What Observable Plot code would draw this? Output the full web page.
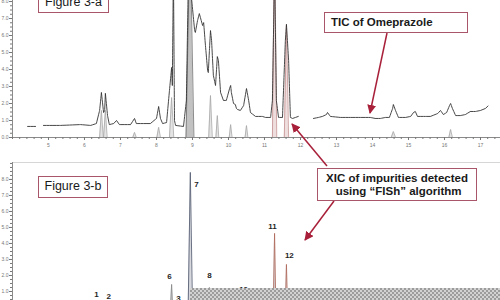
<!DOCTYPE html>
<html><head><meta charset="utf-8">
<script src="https://cdn.jsdelivr.net/npm/d3@7"></script>
<script src="https://cdn.jsdelivr.net/npm/@observablehq/plot@0.6"></script>
<style>
body{margin:0;background:#fff;font-family:Arial,"Liberation Sans",sans-serif}
#root{position:relative;width:500px;height:300px;overflow:hidden;background:#fff}
#root svg.chart{position:absolute;left:0;color:#777}
.box{position:absolute;border:1.6px solid #a9566a;background:#fff;color:#1a1a1a;box-sizing:border-box;white-space:nowrap}
#checker{position:absolute;left:190px;top:288px;width:310px;height:12px;background:repeating-conic-gradient(#9c9c9c 0 25%,#d2d2d2 0 50%) 0 0/4px 4px}
</style></head>
<body><div id="root"></div>
<script>
// ---- Data ----
const majorTicks = [5,6,7,8,9,10,11,12,13,14,15,16,17];
const intensityTicks = [0,1,2,3,4,5,6,7,8];

// TIC of Omeprazole (top panel), null = gap in trace
const ticTime = [4.42,4.64,4.75,4.86,5.33,5.89,6.17,6.33,6.42,6.47,6.53,6.56,6.58,6.64,6.69,6.81,6.89,6.97,7.28,7.39,7.44,7.83,8.0,8.06,8.11,8.17,8.28,8.36,8.42,8.44,8.47,8.5,8.53,8.75,8.83,8.89,9.06,9.08,9.14,9.19,9.22,9.28,9.31,9.36,9.42,9.44,9.47,9.5,9.53,9.58,9.64,9.69,9.72,9.78,9.86,9.94,10.03,10.06,10.08,10.14,10.19,10.22,10.25,10.33,10.42,10.5,10.56,10.61,10.75,10.94,11.03,11.17,11.22,11.28,11.33,11.39,11.5,11.58,11.61,11.67,11.72,11.78,11.86,11.94,12.1,12.36,12.5,12.61,12.72,12.75,12.83,13.11,13.39,13.67,13.94,14.08,14.22,14.36,14.47,14.56,14.58,14.64,14.72,14.92,15.06,15.14,15.19,15.25,15.47,15.61,15.81,15.89,15.97,16.06,16.14,16.17,16.22,16.31,16.44,16.58,16.72,16.86,17.0,17.14,17.22];
const ticIntensity = [0.65,0.65,null,0.71,0.71,0.76,0.71,0.82,1.59,2.65,1.47,1.59,2.6,1.29,0.76,0.82,1.0,0.76,0.76,1.12,0.82,0.82,1.12,1.82,1.12,0.82,0.88,2.76,4.12,3.06,10,1.0,0.71,0.65,2.18,10,6.29,6.18,6.88,7.29,7.06,6.59,6.76,5.41,3.94,3.82,5.12,6.29,5.71,3.65,3.06,4.76,4.53,2.65,2.18,2.18,2.88,3.06,2.65,2.0,1.94,1.71,1.65,1.59,1.88,2.88,2.18,1.47,1.24,1.24,1.18,1.18,2.18,10,2.18,1.18,1.18,5.71,6.65,4.53,1.18,1.12,1.18,1.24,null,1.12,1.18,1.24,1.35,1.47,1.24,1.18,1.18,1.18,1.18,1.12,1.12,1.18,1.18,1.71,1.94,1.59,1.18,1.18,1.24,1.47,1.53,1.24,1.24,1.24,1.41,1.59,1.35,1.47,1.88,2.0,1.71,1.29,1.29,1.35,1.53,1.53,1.59,1.71,1.88];

// Extracted ion peaks under the TIC (top panel)
const xicTopTime = [6.47,6.58,7.39,8.06,8.42,8.93,9.5,9.69,10.06,10.5,11.28,11.61,14.58,16.17];
const xicTopHeight = [1.59,1.59,0.3,0.6,2.35,12,2.47,1.29,0.76,0.7,12,6.65,0.35,0.47];
const xicTopHalfWidth = [0.05,0.05,0.05,0.05,0.06,0.11,0.05,0.04,0.04,0.04,0.06,0.06,0.06,0.05];
const xicTopGroup = ["minor","minor","minor","minor","minor","main","minor","minor","minor","minor","late","late","minor","minor"];

// XIC of impurities (bottom panel)
const xicBotTime = [6.47,6.58,8.42,8.61,8.94,9.47,10.47,11.28,11.61];
const xicBotHeight = [0.3,0.25,1.44,0.3,8.44,1.25,0.4,4.63,2.69];
const xicBotHalfWidth = [0.03,0.03,0.03,0.03,0.06,0.03,0.03,0.035,0.03];
const xicBotGroup = ["minor","minor","minor","minor","main","minor","minor","late","late"];

// Impurity numbers
const peakLabel = ["1","2","3","6","7","8","10","11","12"];
const peakLabelTime = [6.33,6.67,8.61,8.36,9.11,9.47,10.42,11.22,11.69];
const peakLabelLevel = [0.81,0.69,0.56,1.94,7.69,2.0,1.15,5.06,3.25];

// ---- Build ----
const tic = ticTime.map((t,i)=>({t, v: ticIntensity[i]}));
function peakShapes(times, heights, halfs, groups){
  const out = [];
  times.forEach((t,i)=>{
    out.push({id:i, g:groups[i], t:t-halfs[i], v:0});
    out.push({id:i, g:groups[i], t:t, v:heights[i]});
    out.push({id:i, g:groups[i], t:t+halfs[i], v:0});
  });
  return out;
}
const topPeaks = peakShapes(xicTopTime, xicTopHeight, xicTopHalfWidth, xicTopGroup);
const botPeaks = peakShapes(xicBotTime, xicBotHeight, xicBotHalfWidth, xicBotGroup);
const labels = peakLabel.map((s,i)=>({s, t:peakLabelTime[i], v:peakLabelLevel[i]}));

const xDomain = [4, 17.556];
const minor = d3.range(4, 17.6, 0.2).map(d=>+d.toFixed(2));
const groupDomain = ["minor","main","late"];
const topOutline = {minor:"#a6a6a6", main:"#6e6e6e", late:"#c49090"};
const font = {fontFamily:"Arial, Liberation Sans, sans-serif", background:"transparent"};

const topChart = Plot.plot({
  width:500, height:150, marginLeft:12, marginRight:0, marginTop:0, marginBottom:13,
  x:{domain:xDomain, axis:null}, y:{domain:[0,8.06], axis:null},
  color:{domain:groupDomain, range:["#e4e4e4","#c2c2c2","#efdede"]},
  style:font,
  marks:[
    Plot.areaY(topPeaks,{x:"t", y:"v", z:"id", fill:"g", clip:true}),
    Plot.line(topPeaks,{x:"t", y:"v", z:"id", stroke:d=>topOutline[d.g], strokeWidth:0.8, clip:true}),
    Plot.line(tic,{x:"t", y:"v", stroke:"#333", strokeWidth:0.9, strokeDasharray:"2.5,0.8", clip:true}),
    Plot.ruleY([0],{stroke:"#8a8a8a", strokeWidth:1.2}),
    Plot.ruleX([4],{stroke:"#8a8a8a"}),
    Plot.axisX({ticks:minor, tickSize:2, tickFormat:()=>"", label:null}),
    Plot.axisX({ticks:majorTicks, tickSize:3, tickPadding:3, fontSize:5, tickFormat:d=>String(d), label:null}),
    Plot.axisY({ticks:d3.range(0,8.1,0.25), tickSize:2, tickFormat:()=>"", label:null}),
    Plot.axisY({ticks:intensityTicks, tickSize:3, tickPadding:1, fontSize:5, tickFormat:d=>d.toFixed(1), label:null})
  ]
});
topChart.classList.add("chart");
topChart.style.top = "0px";

const botChart = Plot.plot({
  width:500, height:157, marginLeft:12, marginRight:0, marginTop:12, marginBottom:0,
  x:{domain:xDomain, axis:null}, y:{domain:[0,9.06], axis:null},
  color:{domain:groupDomain, range:["#8a8a8a","#5a6276","#b06c5e"]},
  style:font,
  marks:[
    Plot.ruleY([9.06],{stroke:"#d6d6d6"}),
    Plot.ruleX([4],{stroke:"#8a8a8a"}),
    Plot.areaY(botPeaks,{x:"t", y:"v", z:"id", fill:"#d6d8de", clip:true}),
    Plot.line(botPeaks,{x:"t", y:"v", z:"id", stroke:"g", strokeWidth:0.9, clip:true}),
    Plot.text(labels,{x:"t", y:"v", text:"s", fontSize:8, fontWeight:"bold", fill:"#1e1e1e"}),
    Plot.axisY({ticks:d3.range(0,9.06,0.25), tickSize:2, tickFormat:()=>"", label:null}),
    Plot.axisY({ticks:intensityTicks.slice(1), tickSize:3, tickPadding:1, fontSize:5, tickFormat:d=>d.toFixed(1), label:null})
  ]
});
botChart.classList.add("chart");
botChart.style.top = "150px";

const root = document.getElementById("root");
root.appendChild(topChart);
root.appendChild(botChart);

const checker = document.createElement("div");
checker.id = "checker";
root.appendChild(checker);

// Annotation arrows
const ns = "http://www.w3.org/2000/svg";
const ov = document.createElementNS(ns,"svg");
ov.setAttribute("width","500"); ov.setAttribute("height","300");
ov.style.cssText = "position:absolute;left:0;top:0";
ov.innerHTML = `<defs><marker id="ah" viewBox="0 0 10 10" refX="9" refY="5" markerWidth="6" markerHeight="6" orient="auto"><path d="M0,0L10,5L0,10z" fill="#a8203a"/></marker></defs>
<g stroke="#a8203a" stroke-width="1.5" marker-end="url(#ah)">
<line x1="387" y1="33" x2="370" y2="113"/>
<line x1="327" y1="166" x2="292" y2="124"/>
<line x1="334" y1="201" x2="305" y2="240"/></g>`;
root.appendChild(ov);

function box(txt, css){
  const d = document.createElement("div");
  d.className = "box"; d.innerHTML = txt; d.style.cssText += css;
  root.appendChild(d);
}
box("Figure 3-a","left:38px;top:-10px;width:71px;height:23px;font-size:12.5px;text-align:center;line-height:18px;padding-top:2px");
box("Figure 3-b","left:38px;top:176px;width:70px;height:22px;font-size:12.5px;text-align:center;line-height:19px");
box("TIC of Omeprazole","left:324px;top:12px;width:144px;height:21px;font-size:11.5px;font-weight:bold;line-height:18px;padding-left:6px");
box("XIC of impurities detected<br>&nbsp;using “FISh” algorithm","left:317px;top:168px;width:160px;height:33px;font-size:11.5px;font-weight:bold;line-height:13px;text-align:center;padding-top:3px");
</script></body></html>
